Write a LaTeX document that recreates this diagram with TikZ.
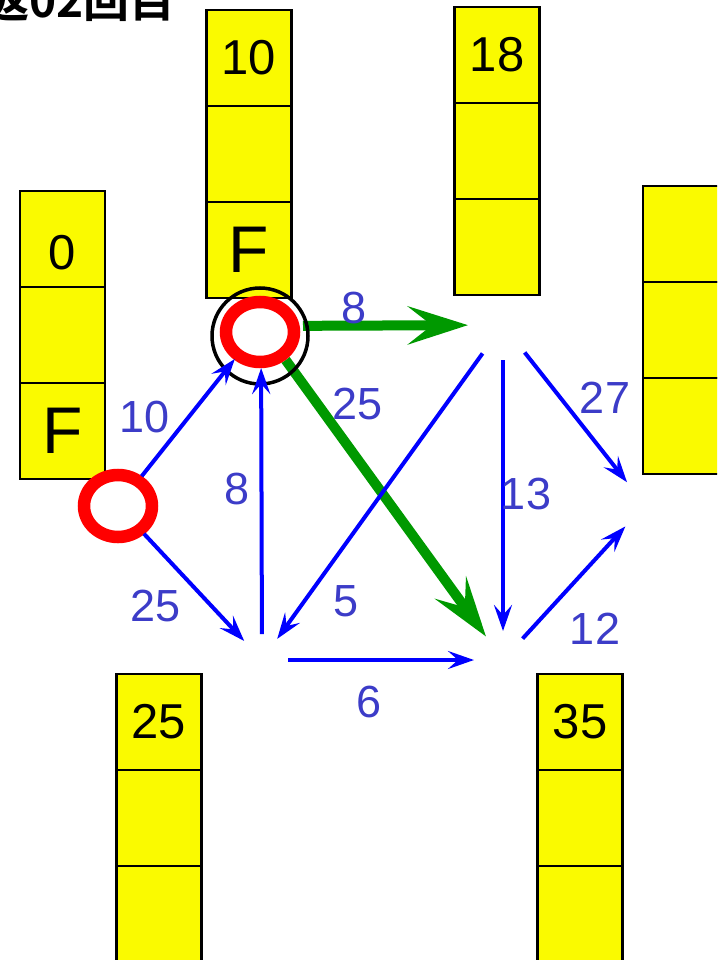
\documentclass[tikz,border=0pt]{standalone}
\usepackage{fontspec}
\setmainfont{Liberation Sans}
\newfontfamily\jpfont{Noto Sans CJK JP}[BoldFont={Noto Sans CJK JP Bold}]
\usetikzlibrary{arrows.meta,positioning}
\definecolor{boxyellow}{RGB}{250,250,0}
\definecolor{edgeblue}{RGB}{0,0,255}
\definecolor{wblue}{RGB}{60,60,200}
\definecolor{pathgreen}{RGB}{0,153,0}
\definecolor{ringred}{RGB}{255,0,0}
\tikzset{
  cell/.style={draw, fill=boxyellow, line width=2.5pt, minimum width=85pt, minimum height=96pt,
    inner sep=0pt, outer sep=0pt, font=\fontsize{49}{49}\selectfont},
  bigF/.style={font=\fontsize{66}{66}\selectfont},
  vtx/.style={circle, inner sep=0pt, outer sep=0pt, minimum size=#1},
  bluearrow/.style={draw=edgeblue, line width=4pt, -{Stealth[length=26pt,width=18pt,inset=10pt]}},
  greenarrow/.style={draw=pathgreen, line width=10pt, -{Stealth[length=60pt,width=38pt,inset=24pt]}},
  wlabel/.style={text=wblue, inner sep=0pt, font=\fontsize{45}{45}\selectfont},
  ring/.style={draw=ringred, line width=12.5pt}
}
\begin{document}
\begin{tikzpicture}[x=1pt,y=-1pt]
  \useasboundingbox (0,0) rectangle (717,960);
  \clip (0,0) rectangle (717,960);
  % distance tables
  \node[cell, text height=61pt] (d0a) at (62.5,239) {0};
  \node[cell, below=0pt of d0a] (d0b) {};
  \node[cell, bigF, below=0pt of d0b] (d0c) {F};
  \node[cell] (d1a) at (249,58) {10};
  \node[cell, below=0pt of d1a] (d1b) {};
  \node[cell, bigF, below=0pt of d1b] (d1c) {F};
  \node[cell] (d2a) at (497,55) {18};
  \node[cell, below=0pt of d2a] (d2b) {};
  \node[cell, below=0pt of d2b] (d2c) {};
  \node[cell] (d3a) at (685.5,234) {};
  \node[cell, below=0pt of d3a] (d3b) {};
  \node[cell, below=0pt of d3b] (d3c) {};
  \node[cell] (d4a) at (159,722) {25};
  \node[cell, below=0pt of d4a] (d4b) {};
  \node[cell, below=0pt of d4b] (d4c) {};
  \node[cell] (d5a) at (580,722) {35};
  \node[cell, below=0pt of d5a] (d5b) {};
  \node[cell, below=0pt of d5b] (d5c) {};
  % vertices
  \node[vtx=76pt] (s) at (118,506) {};
  \node[vtx=84pt] (A) at (261,326) {};
  \node[vtx=70pt] (B) at (503,325) {};
  \node[vtx=52pt] (C) at (262,660) {};
  \node[vtx=58pt] (D) at (503,660) {};
  \node[vtx=58pt] (E) at (645,505) {};
  % chosen edges
  \draw[greenarrow] (A) -- (B);
  \draw[greenarrow] (A) -- (D);
  % current vertex
  \draw[line width=3.5pt] (260,336) circle[radius=48pt];
  \draw[ring] (s) ellipse[x radius=34pt, y radius=31pt];
  \draw[ring] (260,332) ellipse[x radius=34pt, y radius=30pt];
  % edges
  \draw[bluearrow] (s) -- (A);
  \draw[bluearrow] (s) -- (C);
  \draw[bluearrow] (C) -- (A);
  \draw[bluearrow] (B) -- (C);
  \draw[bluearrow] (B) -- (D);
  \draw[bluearrow] (B) -- (E);
  \draw[bluearrow] (C) -- (D);
  \draw[bluearrow] (D) -- (E);
  % weights
  \node[wlabel] (lsA) at (145,417) {10};
  \node[wlabel] (lsC) at (156,606) {25};
  \node[wlabel] (lCA) at (237,489) {8};
  \node[wlabel] (lAB) at (354,308) {8};
  \node[wlabel] (lAD) at (358,404) {25};
  \node[wlabel] (lBC) at (346,601) {5};
  \node[wlabel] (lCD) at (369,702) {6};
  \node[wlabel] (lBD) at (526,494) {13};
  \node[wlabel] (lBE) at (605,398) {27};
  \node[wlabel] (lDE) at (595,629) {12};
  % title
  \node[anchor=base east, inner sep=0pt, font=\jpfont\bfseries\fontsize{46}{46}\selectfont] (title) at (176,18) {繰返02回目};
\end{tikzpicture}
\end{document}
